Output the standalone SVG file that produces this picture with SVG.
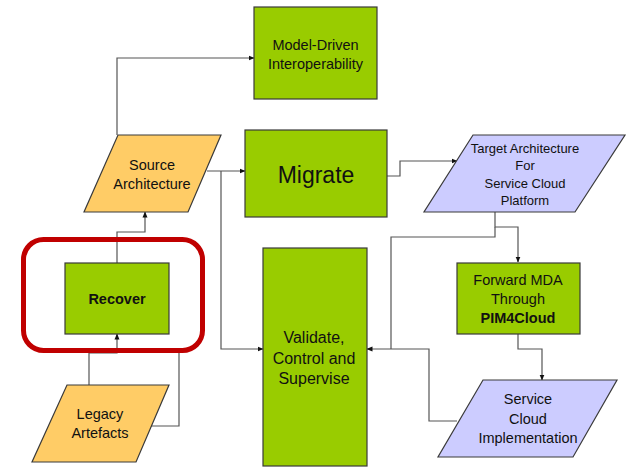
<svg xmlns="http://www.w3.org/2000/svg" width="627" height="467" viewBox="0 0 627 467">
  <defs>
    <marker id="arr" markerWidth="6" markerHeight="6" refX="5.5" refY="3" orient="auto" markerUnits="userSpaceOnUse">
      <path d="M0,0.5 L6,3 L0,5.5 Z" fill="#111"/>
    </marker>
    <style>
      .box { fill: #99CC00; stroke: #3a3a3a; stroke-width: 1.2; }
      .src { fill: #FFCC66; stroke: #3a3a3a; stroke-width: 1.2; }
      .tgt { fill: #CCCCFF; stroke: #3a3a3a; stroke-width: 1.2; }
      .lbl { font-family: "Liberation Sans", Arial, sans-serif; font-size: 14.5px; fill: #111; text-anchor: middle; }
      .bold { font-weight: bold; }
      .conn path { fill: none; stroke: #555; stroke-width: 1.2; }
      .hl { fill: none; stroke: #C00000; stroke-width: 5; }
    </style>
  </defs>
  <rect width="627" height="467" fill="#ffffff"/>

  <!-- connectors -->
  <g id="connectors" class="conn">
    <path d="M117,135 V58 H254" marker-end="url(#arr)"/>
    <path d="M117,263 V232 H145 V212" marker-end="url(#arr)"/>
    <path d="M207,171 H245" marker-end="url(#arr)"/>
    <path d="M221,171 V349 H263" marker-end="url(#arr)"/>
    <path d="M150,426 H179 V349"/>
    <path d="M89,385 V353 H117 V334" marker-end="url(#arr)"/>
    <path d="M387,176 H400 V161 H457" marker-end="url(#arr)"/>
    <path d="M495,212 V227 H518 V262" marker-end="url(#arr)"/>
    <path d="M495,227 V237 H391 V349"/>
    <path d="M518,334 V349 H542 V380" marker-end="url(#arr)"/>
    <path d="M457,421 H429 V349 H367" marker-end="url(#arr)"/>
  </g>

  <g id="model-driven">
    <rect class="box" x="254" y="7" width="123" height="92"/>
    <text class="lbl" x="315.5" y="50">Model-Driven</text>
    <text class="lbl" x="315.5" y="69">Interoperability</text>
  </g>

  <g id="source-architecture">
    <polygon class="src" points="118,135 221,135 188,212 84,212"/>
    <text class="lbl" x="152" y="170">Source</text>
    <text class="lbl" x="152" y="189">Architecture</text>
  </g>

  <g id="migrate">
    <rect class="box" x="245" y="130" width="142" height="87"/>
    <text class="lbl" x="316" y="183" style="font-size:23px">Migrate</text>
  </g>

  <g id="target-architecture">
    <polygon class="tgt" points="473,135 625,135 575,212 424,212"/>
    <text class="lbl" x="525" y="153" style="font-size:13px">Target Architecture</text>
    <text class="lbl" x="525" y="170" style="font-size:13px">For</text>
    <text class="lbl" x="525" y="188" style="font-size:13px">Service Cloud</text>
    <text class="lbl" x="525" y="205" style="font-size:13px">Platform</text>
  </g>

  <g id="recover">
    <rect class="box" x="65" y="263" width="104" height="71"/>
    <text class="lbl bold" x="117" y="304">Recover</text>
  </g>

  <g id="recover-highlight">
    <rect class="hl" x="23.5" y="239.5" width="179" height="111" rx="20" ry="20"/>
  </g>

  <g id="legacy-artefacts">
    <polygon class="src" points="67,385 169,385 136,462 32,462"/>
    <text class="lbl" x="100" y="419">Legacy</text>
    <text class="lbl" x="100" y="438">Artefacts</text>
  </g>

  <g id="validate">
    <rect class="box" x="263" y="248" width="104" height="218"/>
    <text class="lbl" x="314" y="343" style="font-size:16px">Validate,</text>
    <text class="lbl" x="314" y="364" style="font-size:16px">Control and</text>
    <text class="lbl" x="314" y="384" style="font-size:16px">Supervise</text>
  </g>

  <g id="forward-mda">
    <rect class="box" x="457" y="263" width="123" height="71"/>
    <text class="lbl" x="518" y="285">Forward MDA</text>
    <text class="lbl" x="518" y="304">Through</text>
    <text class="lbl bold" x="518" y="323">PIM4Cloud</text>
  </g>

  <g id="service-cloud">
    <polygon class="tgt" points="483,380 617,380 573,457 438,457"/>
    <text class="lbl" x="528" y="404">Service</text>
    <text class="lbl" x="528" y="424">Cloud</text>
    <text class="lbl" x="528" y="443">Implementation</text>
  </g>
</svg>
